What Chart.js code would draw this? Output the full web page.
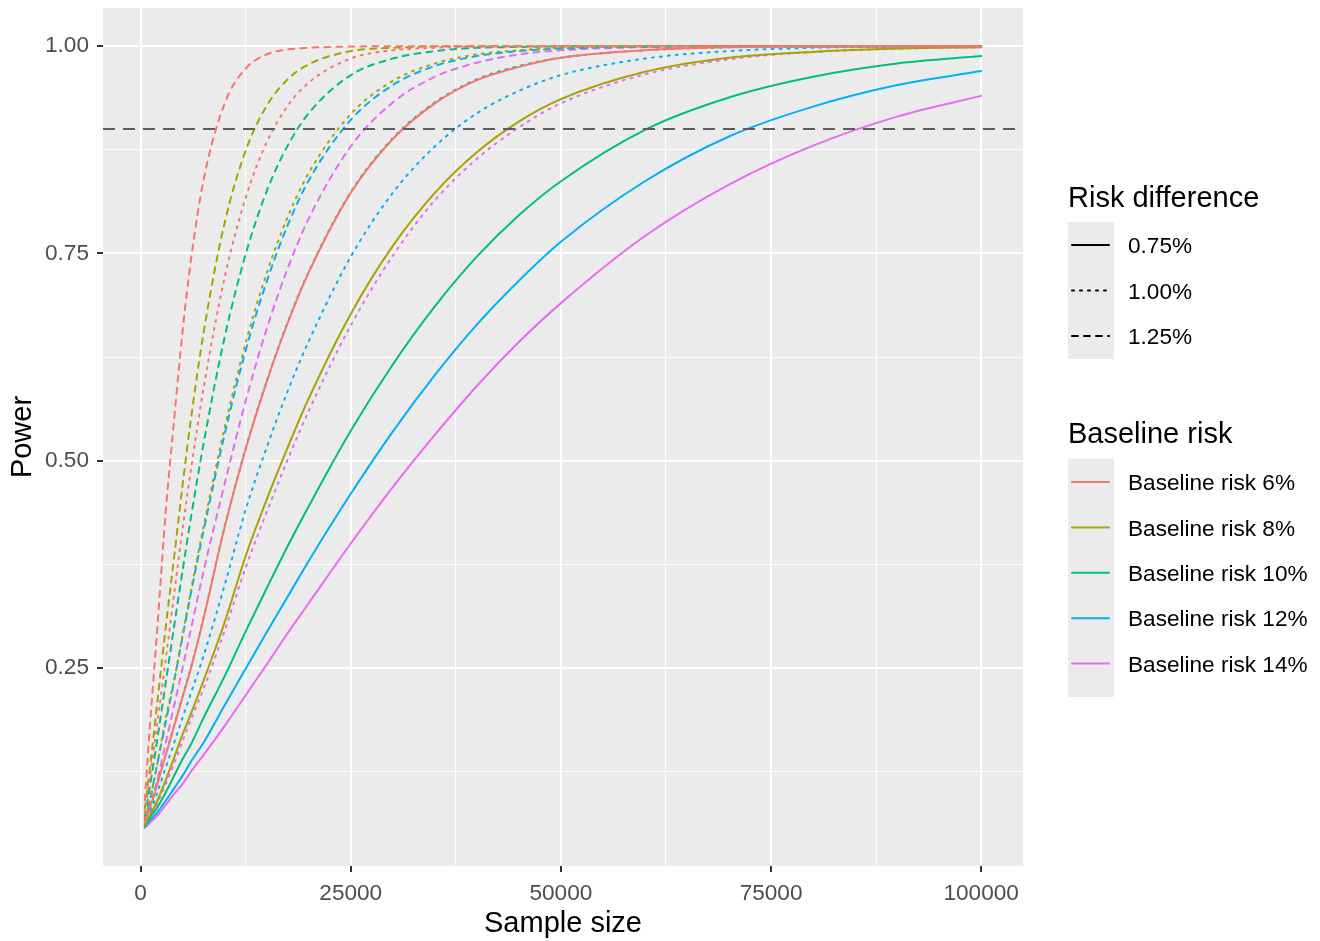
<!DOCTYPE html>
<html>
<head>
<meta charset="utf-8">
<script src="https://cdn.jsdelivr.net/npm/chart.js@4.4.1/dist/chart.umd.min.js"></script>
<style>
  html, body { margin:0; background:#fff; }
  #wrap { width:1320px; height:941px; }
</style>
</head>
<body>
<div id="wrap"><canvas id="powerChart"></canvas></div>
<script>
/* Power curves by sample size, baseline risk and risk difference */

const sampleSize = [500, 1000, 2000, 3000, 4000, 5000, 6000, 7500, 10000, 12500, 15000, 17500, 20000,
  25000, 30000, 35000, 40000, 45000, 50000, 60000, 70000, 80000, 90000, 100000];

// baseline 6%
const risk6_d075 = [0.065, 0.078, 0.11, 0.145, 0.18, 0.215, 0.25, 0.31, 0.42, 0.514, 0.595, 0.666, 0.727, 0.823, 0.888, 0.931, 0.959, 0.975, 0.986, 0.995, 0.9986, 0.9996, 1, 1];
const risk6_d100 = [0.075, 0.11, 0.185, 0.261, 0.34, 0.418, 0.49, 0.588, 0.721, 0.817, 0.884, 0.928, 0.956, 0.985, 0.995, 0.998, 0.9995, 1, 1, 1, 1, 1, 1, 1];
const risk6_d125 = [0.09, 0.165, 0.3, 0.44, 0.551, 0.657, 0.743, 0.839, 0.931, 0.973, 0.99, 0.996, 0.998, 0.9995, 1, 1, 1, 1, 1, 1, 1, 1, 1, 1];
// baseline 8%
const risk8_d075 = [0.06, 0.07, 0.09, 0.115, 0.142, 0.17, 0.195, 0.235, 0.305, 0.385, 0.453, 0.516, 0.575, 0.677, 0.759, 0.823, 0.872, 0.909, 0.936, 0.969, 0.986, 0.993, 0.997, 0.9987];
const risk8_d100 = [0.068, 0.085, 0.135, 0.19, 0.236, 0.29, 0.344, 0.421, 0.54, 0.642, 0.726, 0.794, 0.847, 0.918, 0.958, 0.979, 0.99, 0.995, 0.998, 0.9996, 1, 1, 1, 1];
const risk8_d125 = [0.08, 0.12, 0.21, 0.3, 0.385, 0.471, 0.551, 0.655, 0.787, 0.874, 0.928, 0.96, 0.978, 0.994, 0.998, 0.9997, 1, 1, 1, 1, 1, 1, 1, 1];
// baseline 10%
const risk10_d075 = [0.06, 0.068, 0.082, 0.1, 0.12, 0.14, 0.158, 0.19, 0.24, 0.294, 0.346, 0.397, 0.445, 0.536, 0.616, 0.686, 0.746, 0.796, 0.837, 0.899, 0.938, 0.963, 0.979, 0.988];
const risk10_d100 = [0.068, 0.08, 0.112, 0.146, 0.181, 0.216, 0.251, 0.311, 0.421, 0.515, 0.596, 0.667, 0.728, 0.824, 0.889, 0.932, 0.96, 0.976, 0.986, 0.995, 0.9986, 0.9996, 1, 1];
const risk10_d125 = [0.07, 0.1, 0.165, 0.233, 0.301, 0.368, 0.432, 0.521, 0.649, 0.749, 0.825, 0.88, 0.919, 0.965, 0.985, 0.994, 0.998, 0.999, 0.9997, 1, 1, 1, 1, 1];
// baseline 12%
const risk12_d075 = [0.058, 0.065, 0.076, 0.09, 0.105, 0.12, 0.137, 0.16, 0.205, 0.249, 0.293, 0.336, 0.379, 0.46, 0.535, 0.603, 0.664, 0.717, 0.764, 0.837, 0.891, 0.927, 0.953, 0.97];
const risk12_d100 = [0.06, 0.072, 0.1, 0.13, 0.16, 0.19, 0.22, 0.265, 0.35, 0.441, 0.516, 0.584, 0.644, 0.746, 0.823, 0.879, 0.919, 0.946, 0.965, 0.985, 0.994, 0.998, 0.9992, 0.9997];
const risk12_d125 = [0.066, 0.085, 0.135, 0.185, 0.235, 0.288, 0.341, 0.416, 0.532, 0.633, 0.716, 0.784, 0.838, 0.911, 0.953, 0.976, 0.988, 0.994, 0.997, 0.9994, 1, 1, 1, 1];
// baseline 14%
const risk14_d075 = [0.057, 0.062, 0.072, 0.085, 0.098, 0.11, 0.125, 0.145, 0.18, 0.217, 0.254, 0.292, 0.328, 0.4, 0.468, 0.531, 0.59, 0.643, 0.69, 0.771, 0.833, 0.88, 0.915, 0.94];
const risk14_d100 = [0.058, 0.068, 0.087, 0.11, 0.135, 0.162, 0.188, 0.225, 0.295, 0.371, 0.438, 0.501, 0.56, 0.663, 0.747, 0.814, 0.864, 0.902, 0.931, 0.966, 0.984, 0.993, 0.9967, 0.9986];
const risk14_d125 = [0.062, 0.075, 0.115, 0.16, 0.205, 0.25, 0.297, 0.367, 0.472, 0.572, 0.659, 0.732, 0.792, 0.879, 0.932, 0.963, 0.98, 0.99, 0.995, 0.9988, 0.9998, 1, 1, 1];

const baselineLabels = ['Baseline risk 6%', 'Baseline risk 8%', 'Baseline risk 10%', 'Baseline risk 12%', 'Baseline risk 14%'];
const riskDiffLabels = ['0.75%', '1.00%', '1.25%'];
const powerTarget = 0.9;

const xMajorTicks = [0, 25000, 50000, 75000, 100000];
const xMinorTicks = [12500, 37500, 62500, 87500];
const yMajorTicks = [0.25, 0.5, 0.75, 1.0];
const yMinorTicks = [0.125, 0.375, 0.625, 0.875];

const baselineColors = ['#F8766D', '#A3A500', '#00BF7D', '#00B0F6', '#E76BF3'];
const dashStyles = [[], [2, 6], [6, 6]];
const FONT = '"Liberation Sans", Arial, sans-serif';

const powerTable = [
  [risk6_d075, risk6_d100, risk6_d125],
  [risk8_d075, risk8_d100, risk8_d125],
  [risk10_d075, risk10_d100, risk10_d125],
  [risk12_d075, risk12_d100, risk12_d125],
  [risk14_d075, risk14_d100, risk14_d125]
];

const datasets = [];
powerTable.forEach((row, bi) => {
  row.forEach((vals, di) => {
    datasets.push({
      label: baselineLabels[bi] + ' / ' + riskDiffLabels[di],
      data: sampleSize.map((n, i) => ({x: n, y: vals[i]})),
      borderColor: baselineColors[bi],
      borderWidth: 2,
      borderDash: dashStyles[di],
      borderCapStyle: 'round',
      pointRadius: 0,
      fill: false,
      cubicInterpolationMode: 'monotone'
    });
  });
});

const panelBg = {
  id: 'panelBg',
  beforeDraw(chart){
    const a = chart.chartArea, ctx = chart.ctx;
    ctx.save();
    ctx.fillStyle = '#EBEBEB';
    ctx.fillRect(a.left, a.top, a.right - a.left, a.bottom - a.top);
    ctx.restore();
  }
};

const targetLine = {
  id: 'targetLine',
  afterDatasetsDraw(chart){
    const a = chart.chartArea, ctx = chart.ctx;
    const y = chart.scales.y.getPixelForValue(powerTarget);
    ctx.save();
    ctx.strokeStyle = '#5C5C5C';
    ctx.lineWidth = 2;
    ctx.setLineDash([12, 8]);
    ctx.beginPath();
    ctx.moveTo(a.left, y);
    ctx.lineTo(a.right, y);
    ctx.stroke();
    ctx.restore();
  }
};

const ggLegend = {
  id: 'ggLegend',
  afterDraw(chart){
    const ctx = chart.ctx;
    ctx.save();
    // Risk difference
    ctx.fillStyle = '#000';
    ctx.font = '29px ' + FONT;
    ctx.textBaseline = 'alphabetic';
    ctx.fillText('Risk difference', 1068, 207);
    ctx.fillStyle = '#EBEBEB';
    ctx.fillRect(1068, 222, 46, 137);
    ctx.font = '22.6px ' + FONT;
    ctx.textBaseline = 'middle';
    riskDiffLabels.forEach((lab, i) => {
      const y = 245 + i * 45.5;
      ctx.strokeStyle = '#000';
      ctx.lineWidth = 2;
      ctx.lineCap = 'round';
      ctx.setLineDash(dashStyles[i]);
      ctx.beginPath();
      ctx.moveTo(1072, y);
      ctx.lineTo(1109, y);
      ctx.stroke();
      ctx.fillStyle = '#000';
      ctx.fillText(lab, 1128, y + 2);
    });
    // Baseline risk
    ctx.setLineDash([]);
    ctx.font = '29px ' + FONT;
    ctx.textBaseline = 'alphabetic';
    ctx.fillText('Baseline risk', 1068, 443);
    ctx.fillStyle = '#EBEBEB';
    ctx.fillRect(1068, 459, 46, 238);
    ctx.font = '22.6px ' + FONT;
    ctx.textBaseline = 'middle';
    baselineLabels.forEach((lab, i) => {
      const y = 482 + i * 45.4;
      ctx.strokeStyle = baselineColors[i];
      ctx.lineWidth = 2;
      ctx.beginPath();
      ctx.moveTo(1072, y);
      ctx.lineTo(1109, y);
      ctx.stroke();
      ctx.fillStyle = '#000';
      ctx.fillText(lab, 1128, y + 2);
    });
    ctx.restore();
  }
};

function gridWidth(majors){
  return ctx => (ctx.tick && majors.includes(ctx.tick.value)) ? 2 : 1;
}
function tickColor(majors){
  return ctx => (ctx.tick && majors.includes(ctx.tick.value)) ? '#333333' : 'rgba(0,0,0,0)';
}

new Chart(document.getElementById('powerChart'), {
  type: 'line',
  data: { datasets },
  plugins: [panelBg, targetLine, ggLegend],
  options: {
    responsive: true,
    maintainAspectRatio: false,
    animation: false,
    layout: { padding: { left: 0, right: 297, top: 8, bottom: 0 } },
    plugins: { legend: { display: false }, tooltip: { enabled: false } },
    scales: {
      x: {
        type: 'linear',
        min: -4475,
        max: 104975,
        afterBuildTicks: s => { s.ticks = xMinorTicks.concat(xMajorTicks).sort((a, b) => a - b).map(v => ({value: v})); },
        afterFit: s => { s.height = 75; s.paddingLeft = 0; s.paddingRight = 0; },
        ticks: {
          autoSkip: false, maxRotation: 0, padding: 8,
          color: '#4D4D4D', font: { family: FONT, size: 22.6 },
          callback: v => xMajorTicks.includes(v) ? String(v) : ''
        },
        grid: { color: '#FFFFFF', lineWidth: gridWidth(xMajorTicks), tickColor: tickColor(xMajorTicks), tickLength: 6, tickWidth: 2 },
        border: { display: false },
        title: { display: true, text: 'Sample size', color: '#000', font: { family: FONT, size: 29 }, padding: 0 }
      },
      y: {
        type: 'linear',
        min: 0.011,
        max: 1.046,
        afterBuildTicks: s => { s.ticks = yMinorTicks.concat(yMajorTicks).sort((a, b) => a - b).map(v => ({value: v})); },
        afterFit: s => { s.width = 103; s.paddingTop = 0; s.paddingBottom = 0; },
        ticks: {
          autoSkip: false, padding: 8,
          color: '#4D4D4D', font: { family: FONT, size: 22.6 },
          callback: v => yMajorTicks.includes(v) ? v.toFixed(2) : ''
        },
        grid: { color: '#FFFFFF', lineWidth: gridWidth(yMajorTicks), tickColor: tickColor(yMajorTicks), tickLength: 6, tickWidth: 2 },
        border: { display: false },
        title: { display: true, text: 'Power', color: '#000', font: { family: FONT, size: 29 }, padding: 6 }
      }
    }
  }
});
</script>
</body>
</html>
